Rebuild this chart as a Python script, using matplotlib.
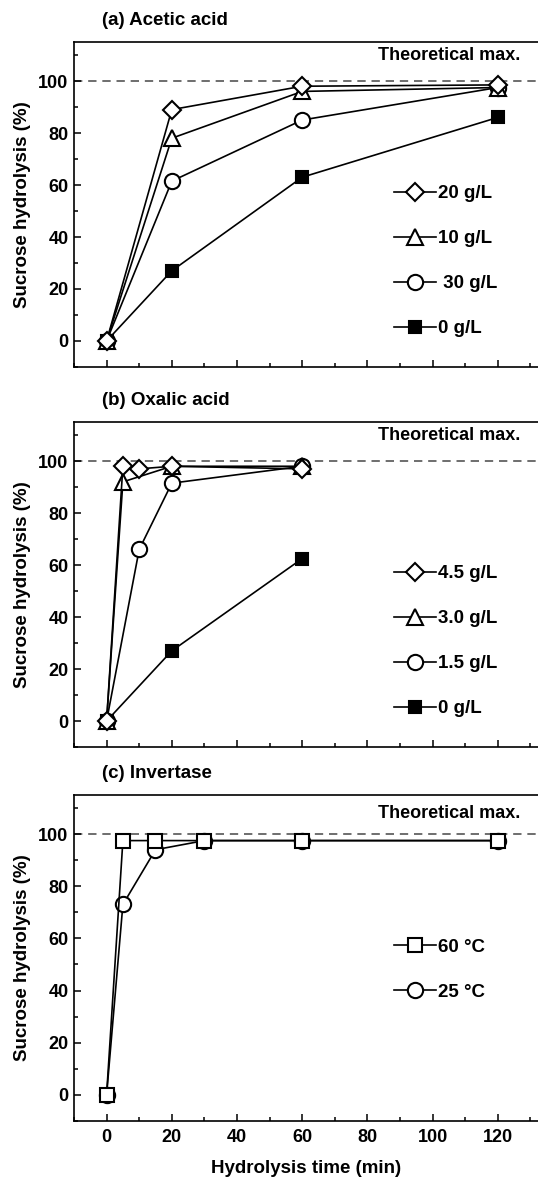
import matplotlib
matplotlib.use('Agg')
import matplotlib.pyplot as plt
from matplotlib.ticker import MultipleLocator

plt.rcParams['font.family'] = ['Liberation Sans', 'DejaVu Sans']
plt.rcParams['font.weight'] = 'bold'
plt.rcParams['axes.labelweight'] = 'bold'

# (a) acetic acid
acetic_time = [0, 20, 60, 120]
acetic_labels = ['20 g/L', '10 g/L', ' 30 g/L', '0 g/L']
acetic_20 = [0, 89, 98, 98.5]
acetic_10 = [0, 78, 96, 97.5]
acetic_30 = [0, 61.5, 85, 97.5]
acetic_0 = [0, 27, 63, 86]

# (b) oxalic acid
oxalic_labels = ['4.5 g/L', '3.0 g/L', '1.5 g/L', '0 g/L']
oxalic_45_time = [0, 5, 10, 20, 60]
oxalic_45 = [0, 98, 97, 98, 97]
oxalic_30_time = [0, 5, 20, 60]
oxalic_30 = [0, 92, 98, 98]
oxalic_15_time = [0, 10, 20, 60]
oxalic_15 = [0, 66, 91.5, 98]
oxalic_0_time = [0, 20, 60]
oxalic_0 = [0, 27, 62.5]

# (c) invertase
invertase_time = [0, 5, 15, 30, 60, 120]
invertase_labels = ['60 \u00b0C', '25 \u00b0C']
invertase_60 = [0, 97.5, 97.5, 97.5, 97.5, 97.5]
invertase_25 = [0, 73, 94, 97.5, 97.5, 97.5]

fig = plt.figure(figsize=(5.38, 11.77), dpi=100)

panels = [
    ('(a) Acetic acid', [0.1375, 0.6882, 0.8625, 0.2761], 110),
    ('(b) Oxalic acid', [0.1375, 0.3653, 0.8625, 0.2761], 110),
    ('(c) Invertase', [0.1375, 0.0476, 0.8625, 0.2770], 108),
]

axes = []
for title, pos, txt_y in panels:
    ax = fig.add_axes(pos)
    ax.set_xlim(-10, 132.3)
    ax.set_ylim(-10, 115)
    ax.xaxis.set_major_locator(MultipleLocator(20))
    ax.xaxis.set_minor_locator(MultipleLocator(10))
    ax.yaxis.set_major_locator(MultipleLocator(20))
    ax.yaxis.set_minor_locator(MultipleLocator(10))
    ax.tick_params(which='both', direction='in', top=False, right=False, width=1.1)
    ax.tick_params(which='major', length=5, labelsize=13, pad=4)
    ax.tick_params(which='minor', length=3)
    ax.tick_params(axis='x', which='major', pad=6)
    ax.set_yticks([0, 20, 40, 60, 80, 100])
    for side in ['left', 'bottom', 'top']:
        ax.spines[side].set_linewidth(1.2)
    ax.spines['right'].set_visible(False)
    ax.axhline(100, color='#555555', linestyle=(0, (5, 3.5)), linewidth=1.2, zorder=1)
    ax.text(127, txt_y, 'Theoretical max.', ha='right', va='center', fontsize=13, fontweight='bold')
    ax.set_ylabel('Sucrose hydrolysis (%)', fontsize=13.5, labelpad=5)
    ax.text(0.06, 1.065, title, transform=ax.transAxes, ha='left', va='center', fontsize=13.5)
    axes.append(ax)

line_kw = dict(color='black', linewidth=1.2, markeredgecolor='black', markeredgewidth=1.5)

ax = axes[0]
ax.plot(acetic_time, acetic_0, marker='s', markersize=9, markerfacecolor='black', label=acetic_labels[3], **line_kw)
ax.plot(acetic_time, acetic_30, marker='o', markersize=11, markerfacecolor='white', label=acetic_labels[2], **line_kw)
ax.plot(acetic_time, acetic_10, marker='^', markersize=11, markerfacecolor='white', label=acetic_labels[1], **line_kw)
ax.plot(acetic_time, acetic_20, marker='D', markersize=9, markerfacecolor='white', label=acetic_labels[0], **line_kw)

ax = axes[1]
ax.plot(oxalic_0_time, oxalic_0, marker='s', markersize=9, markerfacecolor='black', label=oxalic_labels[3], **line_kw)
ax.plot(oxalic_15_time, oxalic_15, marker='o', markersize=11, markerfacecolor='white', label=oxalic_labels[2], **line_kw)
ax.plot(oxalic_30_time, oxalic_30, marker='^', markersize=11, markerfacecolor='white', label=oxalic_labels[1], **line_kw)
ax.plot(oxalic_45_time, oxalic_45, marker='D', markersize=9, markerfacecolor='white', label=oxalic_labels[0], **line_kw)

ax = axes[2]
ax.plot(invertase_time, invertase_25, marker='o', markersize=11, markerfacecolor='white', label=invertase_labels[1], **line_kw)
ax.plot(invertase_time, invertase_60, marker='s', markersize=10, markerfacecolor='white', label=invertase_labels[0], **line_kw)

for ax in axes:
    handles, labels = ax.get_legend_handles_labels()
    ax.legend(handles[::-1], labels[::-1], loc='upper left', bbox_to_anchor=(0.69, 0.56),
              frameon=False, fontsize=13.5, handlelength=2.25, handletextpad=0.1,
              labelspacing=1.49, borderpad=0, borderaxespad=0, markerscale=1.0)

for ax in axes[:2]:
    ax.tick_params(labelbottom=False)
axes[2].set_xlabel('Hydrolysis time (min)', fontsize=13.5, labelpad=10)

fig.savefig('out.png', dpi=100)
